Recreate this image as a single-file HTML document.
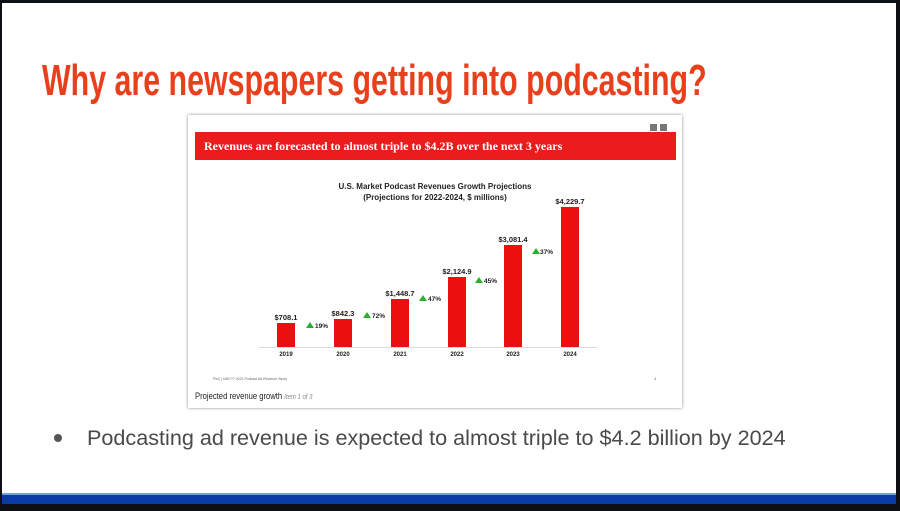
<!DOCTYPE html>
<html><head><style>
body{margin:0;width:900px;height:511px;background:#0c0f14;position:relative;overflow:hidden;font-family:"Liberation Sans",sans-serif}
.slide{position:absolute;left:2px;top:3px;width:894px;height:493px;background:#fff}
.t{position:absolute;white-space:nowrap}
</style></head><body>
<div class="slide"></div>
<div style="position:absolute;left:2px;top:493px;width:894px;height:2px;background:#6fa0e0"></div>
<div style="position:absolute;left:2px;top:495px;width:894px;height:9px;background:#0a3aa8"></div>
<div class="t" style="left:42px;top:56px;font-weight:bold;font-size:44px;color:#e8401c;transform:scaleX(0.69);transform-origin:left top">Why are newspapers getting into podcasting?</div>
<div style="position:absolute;left:188px;top:115px;width:494px;height:293px;background:#fff;box-shadow:0 0 3px #888"></div>
<div style="position:absolute;left:650px;top:124px;width:7px;height:7px;background:#777"></div>
<div style="position:absolute;left:660px;top:124px;width:7px;height:7px;background:#777"></div>
<div style="position:absolute;left:195px;top:132px;width:481px;height:28px;background:#ea1c1c"></div>
<div class="t" style="left:204px;top:139px;font-family:'Liberation Serif',serif;font-weight:bold;font-size:12px;color:#fff">Revenues are forecasted to almost triple to $4.2B over the next 3 years</div>
<div class="t" style="left:235px;top:181px;width:400px;text-align:center;font-weight:bold;font-size:8px;line-height:11px;color:#222">U.S. Market Podcast Revenues Growth Projections<br>(Projections for 2022-2024, $ millions)</div>
<svg style="position:absolute;left:0;top:0" width="900" height="511">
<line x1="258" y1="347.5" x2="597" y2="347.5" stroke="#ddd"/>
<g fill="#ea1010">
<rect x="277" y="323" width="18" height="24"/><rect x="334" y="319" width="18" height="28"/>
<rect x="391" y="299" width="18" height="48"/><rect x="448" y="277" width="18" height="70"/>
<rect x="504" y="245" width="18" height="102"/><rect x="561" y="207" width="18" height="140"/>
</g>
<g font-family="Liberation Sans" font-weight="bold" font-size="7.5" fill="#222" text-anchor="middle">
<text x="286" y="320">$708.1</text><text x="343" y="316">$842.3</text><text x="400" y="296">$1,448.7</text>
<text x="457" y="274">$2,124.9</text><text x="513" y="242">$3,081.4</text><text x="570" y="204">$4,229.7</text>
<g font-size="6"><text x="286" y="356">2019</text><text x="343" y="356">2020</text><text x="400" y="356">2021</text><text x="457" y="356">2022</text><text x="513" y="356">2023</text><text x="570" y="356">2024</text></g>
</g>
<g fill="#2bb02b"><path d="M306 328l4-6 4 6z"/><path d="M363 318l4-6 4 6z"/><path d="M419 301l4-6 4 6z"/><path d="M475 283l4-6 4 6z"/><path d="M532 254l4-6 4 6z"/></g>
<g font-family="Liberation Sans" font-weight="bold" font-size="6.5" fill="#222">
<text x="315" y="328">19%</text><text x="372" y="318">72%</text><text x="428" y="301">47%</text><text x="484" y="283">45%</text><text x="540" y="254">37%</text></g>
<text x="213" y="380" font-size="3.5" fill="#666" font-family="Liberation Sans">PwC | IAB??? 2021 Podcast Ad Revenue Study</text>
<text x="654" y="380" font-size="4" fill="#666">4</text>
</svg>
<div class="t" style="left:195px;top:391px;font-size:9px;color:#222;transform:scaleX(0.85);transform-origin:left top">Projected revenue growth <i style="color:#888;font-size:7px">Item 1 of 3</i></div>
<div style="position:absolute;left:54px;top:434px;width:8px;height:8px;border-radius:50%;background:#555"></div>
<div class="t" style="left:87px;top:425px;font-size:21.6px;color:#4a4a4a">Podcasting ad revenue is expected to almost triple to $4.2 billion by 2024</div>
</body></html>
